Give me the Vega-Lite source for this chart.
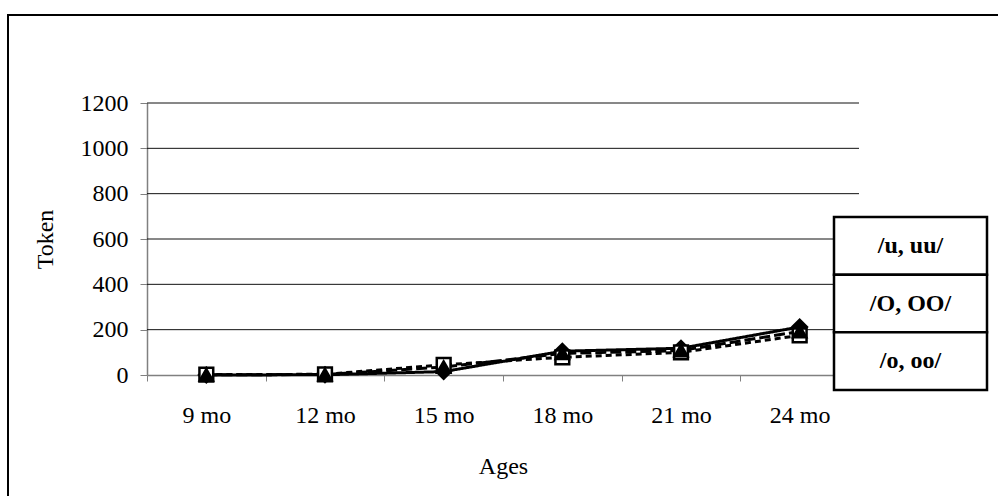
{
  "$schema": "https://vega.github.io/schema/vega-lite/v6.json",
  "width": 995,
  "height": 490,
  "autosize": {"type": "none"},
  "padding": {"left": 8, "top": 15, "right": 0, "bottom": 0},
  "background": "white",
  "config": {
    "view": {"stroke": "black", "strokeWidth": 2, "fill": "white"},
    "font": "Liberation Serif"
  },
  "datasets": {
    "tokens": [
      {"age": "9 mo", "series": "/u, uu/", "token": 0},
      {"age": "12 mo", "series": "/u, uu/", "token": 1},
      {"age": "15 mo", "series": "/u, uu/", "token": 15},
      {"age": "18 mo", "series": "/u, uu/", "token": 105},
      {"age": "21 mo", "series": "/u, uu/", "token": 118},
      {"age": "24 mo", "series": "/u, uu/", "token": 212},
      {"age": "9 mo", "series": "/O, OO/", "token": 2},
      {"age": "12 mo", "series": "/O, OO/", "token": 3},
      {"age": "15 mo", "series": "/O, OO/", "token": 45},
      {"age": "18 mo", "series": "/O, OO/", "token": 78},
      {"age": "21 mo", "series": "/O, OO/", "token": 100},
      {"age": "24 mo", "series": "/O, OO/", "token": 175},
      {"age": "9 mo", "series": "/o, oo/", "token": 1},
      {"age": "12 mo", "series": "/o, oo/", "token": 2},
      {"age": "15 mo", "series": "/o, oo/", "token": 35},
      {"age": "18 mo", "series": "/o, oo/", "token": 95},
      {"age": "21 mo", "series": "/o, oo/", "token": 108},
      {"age": "24 mo", "series": "/o, oo/", "token": 192}
    ],
    "gridValues": [
      {"v": 200}, {"v": 400}, {"v": 600}, {"v": 800}, {"v": 1000}, {"v": 1200}
    ],
    "seriesNames": [
      {"series": "/u, uu/"}, {"series": "/O, OO/"}, {"series": "/o, oo/"}
    ]
  },
  "layer": [
    {
      "data": {"name": "gridValues"},
      "mark": {"type": "rule", "color": "#111111", "strokeWidth": 1},
      "encoding": {
        "x": {"datum": 0, "type": "quantitative", "scale": {"domain": [0, 1], "range": [139, 851]}, "axis": null},
        "x2": {"datum": 1},
        "y": {"field": "v", "type": "quantitative", "scale": {"domain": [0, 1200], "range": [360, 88], "nice": false}, "axis": null}
      }
    },
    {
      "data": {"name": "tokens"},
      "encoding": {
        "x": {
          "field": "age",
          "type": "ordinal",
          "sort": ["9 mo", "12 mo", "15 mo", "18 mo", "21 mo", "24 mo"],
          "scale": {
            "type": "band",
            "domain": ["9 mo", "12 mo", "15 mo", "18 mo", "21 mo", "24 mo"],
            "range": [139, 851],
            "paddingInner": 0,
            "paddingOuter": 0
          },
          "axis": {
            "title": "Ages",
            "orient": "bottom",
            "offset": -130,
            "tickBand": "extent",
            "tickSize": 6,
            "tickColor": "#808080",
            "domainColor": "#808080",
            "domainWidth": 1.5,
            "labelAngle": 0,
            "labelFont": "Liberation Serif",
            "labelFontSize": 24,
            "labelColor": "black",
            "labelPadding": 22,
            "titleFont": "Liberation Serif",
            "titleFontSize": 24,
            "titleFontWeight": "normal",
            "titleColor": "black",
            "titlePadding": 27,
            "grid": false
          }
        },
        "y": {
          "field": "token",
          "type": "quantitative",
          "scale": {"domain": [0, 1200], "range": [360, 88], "nice": false},
          "axis": {
            "title": "Token",
            "orient": "left",
            "offset": -139,
            "values": [0, 200, 400, 600, 800, 1000, 1200],
            "format": "d",
            "tickSize": 7,
            "tickColor": "#808080",
            "domainColor": "#808080",
            "domainWidth": 1.5,
            "labelFont": "Liberation Serif",
            "labelFontSize": 24,
            "labelColor": "black",
            "labelPadding": 12,
            "titleFont": "Liberation Serif",
            "titleFontSize": 24,
            "titleFontWeight": "normal",
            "titleColor": "black",
            "titlePadding": 23,
            "grid": false
          }
        }
      },
      "layer": [
        {
          "mark": {"type": "line", "color": "black", "strokeWidth": 3},
          "encoding": {
            "strokeDash": {
              "field": "series",
              "type": "nominal",
              "scale": {"domain": ["/u, uu/", "/O, OO/", "/o, oo/"], "range": [[1, 0], [6, 4], [11, 4]]},
              "legend": null
            }
          }
        },
        {
          "mark": {"type": "point", "filled": true, "stroke": "black", "strokeWidth": 2.5, "opacity": 1},
          "encoding": {
            "shape": {
              "field": "series",
              "type": "nominal",
              "scale": {"domain": ["/u, uu/", "/O, OO/", "/o, oo/"], "range": ["diamond", "square", "triangle-up"]},
              "legend": null
            },
            "fill": {
              "field": "series",
              "type": "nominal",
              "scale": {"domain": ["/u, uu/", "/O, OO/", "/o, oo/"], "range": ["black", "white", "black"]},
              "legend": null
            },
            "size": {
              "field": "series",
              "type": "nominal",
              "scale": {"domain": ["/u, uu/", "/O, OO/", "/o, oo/"], "range": [210, 170, 120]},
              "legend": null
            }
          }
        }
      ]
    },
    {
      "data": {"name": "seriesNames"},
      "encoding": {
        "y": {
          "field": "series",
          "type": "nominal",
          "scale": {
            "type": "band",
            "domain": ["/u, uu/", "/O, OO/", "/o, oo/"],
            "range": [202, 375],
            "paddingInner": 0,
            "paddingOuter": 0
          },
          "axis": null
        }
      },
      "layer": [
        {
          "mark": {"type": "rect", "fill": "white", "stroke": "black", "strokeWidth": 2.5},
          "encoding": {
            "x": {"datum": 0, "type": "quantitative", "scale": {"domain": [0, 1], "range": [826, 979]}, "axis": null},
            "x2": {"datum": 1}
          }
        },
        {
          "mark": {"type": "text", "font": "Liberation Serif", "fontWeight": "bold", "fontSize": 24, "color": "black", "align": "center", "baseline": "middle"},
          "encoding": {
            "x": {"datum": 0.5, "type": "quantitative"},
            "text": {"field": "series"}
          }
        }
      ]
    }
  ],
  "resolve": {"scale": {"x": "independent", "y": "independent"}}
}
